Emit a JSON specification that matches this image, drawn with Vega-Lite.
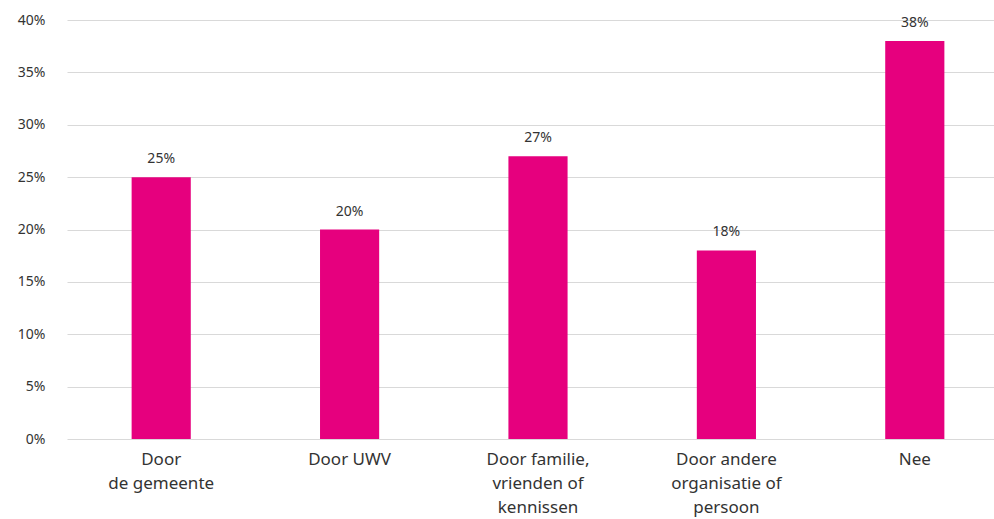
{
  "$schema": "https://vega.github.io/schema/vega-lite/v6.json",
  "width": 942,
  "height": 419,
  "autosize": {"type": "none"},
  "padding": {"left": 67, "top": 20, "right": 1, "bottom": 80},
  "background": "white",
  "config": {
    "view": {"stroke": null},
    "font": "Noto Sans"
  },
  "data": {
    "values": [
      {"categorie": "Door\nde gemeente", "aandeel": 0.25},
      {"categorie": "Door UWV", "aandeel": 0.20},
      {"categorie": "Door familie,\nvrienden of\nkennissen", "aandeel": 0.27},
      {"categorie": "Door andere\norganisatie of\npersoon", "aandeel": 0.18},
      {"categorie": "Nee", "aandeel": 0.38}
    ]
  },
  "encoding": {
    "x": {
      "field": "categorie",
      "type": "nominal",
      "sort": null,
      "scale": {"paddingInner": 0.686, "paddingOuter": 0.343},
      "axis": {
        "title": null,
        "labelAngle": 0,
        "labelExpr": "split(datum.label, '\\n')",
        "labelFontSize": 17,
        "labelColor": "#333333",
        "labelLineHeight": 24,
        "labelPadding": 12,
        "ticks": false,
        "domain": false,
        "labelLimit": 300
      }
    },
    "y": {
      "field": "aandeel",
      "type": "quantitative",
      "scale": {"domain": [0, 0.4]},
      "axis": {
        "title": null,
        "format": ".0%",
        "values": [0, 0.05, 0.1, 0.15, 0.2, 0.25, 0.3, 0.35, 0.4],
        "labelFontSize": 14,
        "labelColor": "#333333",
        "labelPadding": 22,
        "ticks": false,
        "domain": false,
        "gridColor": "#d9d9d9",
        "gridWidth": 1.2
      }
    }
  },
  "layer": [
    {
      "mark": {"type": "bar", "color": "#E6007E"}
    },
    {
      "mark": {"type": "text", "dy": -18, "fontSize": 14, "color": "#333333"},
      "encoding": {
        "text": {"field": "aandeel", "type": "quantitative", "format": ".0%"}
      }
    }
  ]
}
